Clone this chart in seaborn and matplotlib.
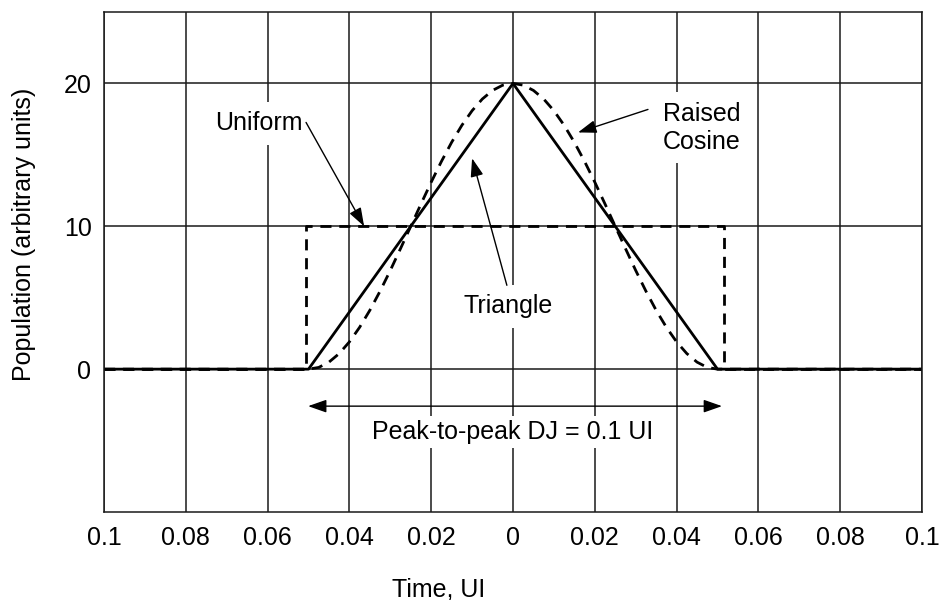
import matplotlib
matplotlib.use("Agg")
import matplotlib.pyplot as plt
import seaborn as sns

# Time axis (UI) and population values for the three jitter distributions
tri_t = [-0.1, -0.05, 0.0, 0.05, 0.1]
tri_pop = [0, 0, 20, 0, 0]

uni_t = [-0.1, -0.0505, -0.0505, 0.0515, 0.0515, 0.1]
uni_pop = [0, 0, 10, 10, 0, 0]

cos_t = [-0.1, -0.05, -0.0475, -0.045, -0.0425, -0.04, -0.0375, -0.035, -0.0325,
         -0.03, -0.0275, -0.025, -0.0225, -0.02, -0.0175, -0.015, -0.0125, -0.01,
         -0.0075, -0.005, -0.0025, 0.0, 0.0025, 0.005, 0.0075, 0.01, 0.0125, 0.015,
         0.0175, 0.02, 0.0225, 0.025, 0.0275, 0.03, 0.0325, 0.035, 0.0375, 0.04,
         0.0425, 0.045, 0.0475, 0.05, 0.1]
cos_pop = [0, 0, 0.12, 0.49, 1.09, 1.91, 2.93, 4.12, 5.46,
           6.91, 8.44, 10.0, 11.56, 13.09, 14.54, 15.88, 17.07, 18.09,
           18.91, 19.51, 19.88, 20.0, 19.88, 19.51, 18.91, 18.09, 17.07, 15.88,
           14.54, 13.09, 11.56, 10.0, 8.44, 6.91, 5.46, 4.12, 2.93, 1.91,
           1.09, 0.49, 0.12, 0, 0]

xticks = [-0.1, -0.08, -0.06, -0.04, -0.02, 0.0, 0.02, 0.04, 0.06, 0.08, 0.1]
xtick_labels = ["0.1", "0.08", "0.06", "0.04", "0.02", "0",
                "0.02", "0.04", "0.06", "0.08", "0.1"]
yticks = [0, 10, 20]
ytick_labels = ["0", "10", "20"]

sns.set_theme(style="white")
plt.rcParams["font.family"] = ["Liberation Sans", "DejaVu Sans"]
plt.rcParams["text.color"] = "black"
FS = 18

fig = plt.figure(figsize=(9.42, 6.0), dpi=100)
ax = fig.add_axes([104 / 942, 88 / 600, 818 / 942, 500 / 600])

line_kw = dict(ax=ax, color="black", linewidth=2.0, sort=False, estimator=None)
dash = (4, 2.8)
sns.lineplot(x=uni_t, y=uni_pop, **line_kw).lines[-1].set_dashes(dash)
sns.lineplot(x=cos_t, y=cos_pop, **line_kw).lines[-1].set_dashes(dash)
sns.lineplot(x=tri_t, y=tri_pop, **line_kw)

ax.set_xlim(-0.1, 0.1)
ax.set_ylim(-10, 25)
ax.set_xticks(xticks, labels=xtick_labels)
ax.set_yticks(yticks, labels=ytick_labels)
ax.tick_params(axis="both", length=0, labelsize=FS, colors="black")
ax.tick_params(axis="x", pad=10)
ax.tick_params(axis="y", pad=9)
ax.set_axisbelow(True)
ax.grid(True, color="#1a1a1a", linewidth=1.1)
for s in ax.spines.values():
    s.set_visible(True)
    s.set_color("#1a1a1a")
    s.set_linewidth(1.1)
ax.set_xlabel("")
ax.set_ylabel("")

fig.text(439 / 942, 1 - 589 / 600, "Time, UI", fontsize=FS, ha="center", va="center")
fig.text(24 / 942, 1 - 234 / 600, "Population (arbitrary units)", fontsize=FS,
         rotation=90, ha="center", va="center")

box = dict(facecolor="white", edgecolor="none", pad=7)
head = "-|>,head_length=0.8,head_width=0.28"
arrow_kw = dict(color="black", lw=1.0, mutation_scale=14, shrinkA=0, shrinkB=0)

ax.text(-0.0621, 17.2, "Uniform", fontsize=FS, ha="center", va="center", bbox=box)
ax.annotate("", xy=(-0.0364, 10.0), xytext=(-0.0506, 17.27),
            arrowprops=dict(arrowstyle=head, **arrow_kw))

ax.text(0.0367, 16.9, "Raised\nCosine", fontsize=FS, ha="left", va="center",
        linespacing=1.2, bbox=box)
ax.annotate("", xy=(0.0159, 16.57), xytext=(0.033, 18.18),
            arrowprops=dict(arrowstyle=head, **arrow_kw))

ax.text(-0.0012, 4.4, "Triangle", fontsize=FS, ha="center", va="center", bbox=box)
ax.annotate("", xy=(-0.010, 14.76), xytext=(-0.0015, 5.87),
            arrowprops=dict(arrowstyle=head, **arrow_kw))

ax.annotate("", xy=(0.0511, -2.59), xytext=(-0.0501, -2.59),
            arrowprops=dict(arrowstyle="<|-|>,head_length=0.8,head_width=0.28",
                            **arrow_kw))
ax.text(0.0, -4.4, "Peak-to-peak DJ = 0.1 UI", fontsize=FS, ha="center",
        va="center", bbox=dict(facecolor="white", edgecolor="none", pad=3))

fig.savefig("out.png", dpi=100, facecolor="white")
